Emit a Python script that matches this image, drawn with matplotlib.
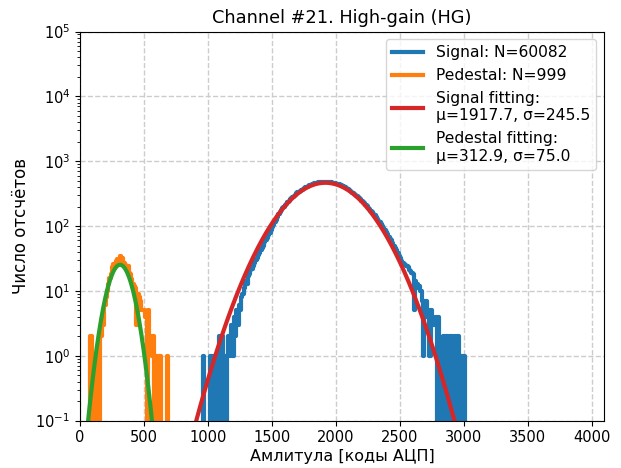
import numpy as np
import matplotlib
matplotlib.use("Agg")
import matplotlib.pyplot as plt

# ---- data ----
bin_width = 10
sig_start = 900
sig_counts = [
    0, 0, 0, 0, 0, 0, 1, 0, 0, 0,
    0, 0, 1, 0, 1, 1, 0, 1, 0, 2,
    1, 2, 0, 1, 0, 1, 2, 1, 3, 1,
    4, 2, 5, 3, 6, 5, 8, 9, 11, 14,
    13, 17, 18, 21, 22, 24, 27, 30, 32, 36,
    38, 43, 46, 50, 56, 60, 66, 72, 79, 87,
    95, 104, 114, 126, 138, 152, 163, 176, 187, 199,
    211, 222, 235, 246, 259, 270, 284, 294, 306, 318,
    331, 341, 352, 366, 374, 386, 397, 405, 416, 424,
    431, 441, 446, 455, 462, 466, 473, 471, 480, 478,
    482, 479, 484, 477, 474, 478, 470, 466, 463, 455,
    451, 446, 440, 431, 425, 414, 405, 394, 386, 373,
    364, 351, 340, 329, 317, 305, 292, 281, 270, 258,
    246, 236, 224, 214, 203, 193, 183, 173, 163, 155,
    146, 137, 129, 121, 114, 106, 99, 93, 86, 80,
    75, 69, 64, 60, 55, 50, 46, 42, 39, 35,
    32, 29, 27, 26, 25, 24, 23, 21, 20, 19,
    18, 5, 14, 13, 11, 12, 10, 7, 1, 6,
    7, 4, 5, 1, 5, 4, 4, 3, 4, 0,
    4, 0, 1, 0, 2, 0, 2, 2, 0, 2,
    2, 0, 2, 1, 0, 2, 1, 0, 1, 1,
    1, 0,
]
ped_start = 50
ped_counts = [
    0, 0, 0, 2, 0, 1, 0, 1, 0, 1,
    0, 2, 4, 3, 6, 8, 10, 13, 16, 18,
    23, 26, 24, 29, 31, 28, 34, 30, 32, 27,
    25, 22, 24, 19, 18, 15, 13, 12, 11, 3,
    9, 8, 7, 5, 5, 5, 4, 0, 5, 2,
    2, 1, 2, 0, 1, 1, 0, 1, 0, 0,
    0, 0, 0, 1, 0, 0,
]

sig_N = 60082
ped_N = 999
sig_mu, sig_sigma, sig_amp = 1917.7, 245.5, 465.0
ped_mu, ped_sigma, ped_amp = 312.9, 75.0, 25.3

title = "Channel #21. High-gain (HG)"
xlabel = "Амлитула [коды АЦП]"
ylabel = "Число отсчётов"

# ---- plot ----
fig = plt.figure(figsize=(6.21, 4.68), dpi=100)
ax = fig.add_axes([80 / 621, 1 - 420.6 / 468, (604 - 80) / 621, (420.6 - 31.5) / 468])

sig_x = sig_start + bin_width * (np.arange(len(sig_counts)) + 0.5)
ped_x = ped_start + bin_width * (np.arange(len(ped_counts)) + 0.5)

ax.plot(sig_x, sig_counts, drawstyle="steps-mid", color="tab:blue", lw=3,
        label=f"Signal: N={sig_N}")
ax.plot(ped_x, ped_counts, drawstyle="steps-mid", color="tab:orange", lw=3,
        label=f"Pedestal: N={ped_N}")

xf = np.linspace(0, 4096, 3000)
ax.plot(xf, sig_amp * np.exp(-(xf - sig_mu) ** 2 / (2 * sig_sigma ** 2)),
        color="tab:red", lw=3,
        label=f"Signal fitting:\nμ={sig_mu}, σ={sig_sigma}")
ax.plot(xf, ped_amp * np.exp(-(xf - ped_mu) ** 2 / (2 * ped_sigma ** 2)),
        color="tab:green", lw=3,
        label=f"Pedestal fitting:\nμ={ped_mu}, σ={ped_sigma}")

ax.set_yscale("log")
ax.set_ylim(1e-1, 1e5)
ax.set_xlim(0, 4096)
ax.grid(True, linestyle="--", color="#cccccc", lw=1.0)
ax.set_axisbelow(True)
ax.tick_params(labelsize=10.5)
ax.set_title(title, fontsize=12.8)
ax.set_xlabel(xlabel, fontsize=11.5, labelpad=3)
ax.set_ylabel(ylabel, fontsize=12)
ax.legend(loc="upper right", fontsize=11.2)

fig.savefig("out.png", dpi=100)
